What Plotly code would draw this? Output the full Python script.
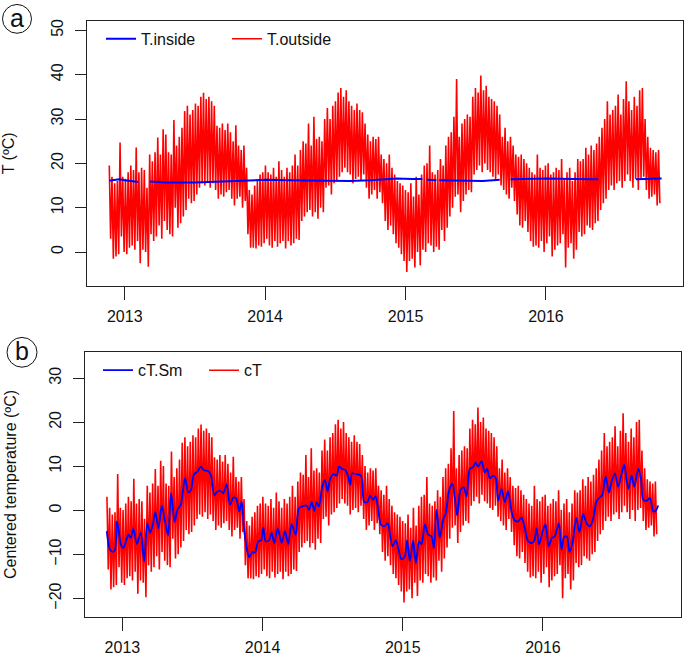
import numpy as np
import pandas as pd
import plotly.graph_objects as go

# ---------------- data ----------------
# Outdoor temperature: weekly high / low (degC), weeks starting 2012-11-20
TOUT_WEEK_START = "2012-11-20"
TOUT_HI = [19.5, 17.0, 15.5, 16.0, 24.7, 17.0, 16.5, 18.0, 19.5, 18.5,
           23.6, 18.0, 19.0, 18.5, 14.5, 22.0, 20.5, 22.5, 25.8, 22.0,
           27.7, 26.5, 22.5, 22.0, 29.8, 24.0, 26.0, 28.0, 31.8, 33.0,
           31.0, 32.0, 33.5, 33.0, 35.0, 35.9, 34.5, 35.0, 34.0, 33.0,
           28.5, 28.0, 29.0, 27.5, 29.0, 27.0, 25.0, 28.6, 24.0, 23.0,
           24.0, 19.0, 14.0, 13.0, 15.0, 16.0, 17.5, 18.0, 19.5, 18.0,
           17.5, 19.0, 17.0, 20.5, 18.5, 17.0, 19.0, 18.0, 19.5, 22.0,
           19.5, 23.0, 25.0, 24.5, 29.0, 24.0, 30.5, 25.5, 26.0, 25.0,
           30.0, 32.5, 30.0, 33.0, 34.0, 36.0, 37.0, 35.0, 36.5, 34.0,
           33.0, 32.0, 33.5, 32.0, 31.5, 29.0, 26.5, 25.0, 26.0, 25.5,
           26.0, 22.0, 21.0, 20.0, 22.0, 19.0, 17.5, 16.0, 15.5, 15.0,
           14.0, 13.5, 15.5, 12.5, 17.0, 13.0, 17.5, 19.5, 20.0, 24.0,
           18.0, 17.5, 18.5, 21.0, 19.5, 24.0, 26.0, 27.0, 30.5, 39.0,
           26.0, 29.0, 30.0, 31.0, 30.5, 35.0, 37.0, 36.0, 39.8, 36.5,
           37.5, 35.0, 34.5, 34.0, 33.0, 31.0, 26.0, 28.0, 25.0, 26.0,
           24.0, 22.0, 21.5, 22.0, 21.0, 20.0, 19.0, 18.0, 17.5, 22.0,
           19.0, 18.5, 19.5, 20.0, 17.5, 18.0, 19.0, 18.5, 21.0, 16.5,
           18.0, 19.0, 16.0, 18.0, 21.0, 20.5, 21.0, 23.5, 22.0, 24.0,
           23.0, 24.5, 26.0, 28.0, 30.0, 34.0, 31.0, 32.0, 33.0, 35.5,
           31.0, 34.5, 38.5, 34.0, 32.0, 35.0, 33.0, 36.5, 37.0, 30.0,
           26.0, 23.5, 23.0, 22.5, 23.0]
TOUT_LO = [3.0, -1.5, -1.0, -0.5, 3.5, 0.0, -0.5, 1.0, 1.5, 0.5,
           2.5, -2.5, 0.5, 0.0, -3.3, 4.0, 2.5, 3.5, 6.0, 3.0,
           7.0, 5.0, 4.0, 3.5, 10.0, 5.5, 6.5, 8.0, 9.5, 12.0,
           11.0, 11.5, 13.0, 14.5, 15.5, 15.0, 16.0, 14.5, 15.5, 14.0,
           12.0, 13.0, 12.5, 13.5, 14.0, 12.0, 10.5, 12.0, 12.5, 10.0,
           11.5, 4.0, 1.0, 1.0, 0.8, 1.5, 1.2, 2.0, 3.0, 1.5,
           1.0, 2.5, 1.2, 2.0, 2.5, 0.8, 2.5, 1.5, 2.0, 3.0,
           2.7, 7.0, 8.0, 9.0, 9.5, 8.0, 9.0, 7.5, 10.0, 9.0,
           14.5, 15.0, 13.0, 15.5, 16.0, 17.0, 18.0, 19.0, 18.0, 17.5,
           15.5, 16.5, 17.0, 16.0, 17.5, 14.5, 12.0, 13.0, 14.0, 12.0,
           13.5, 11.0, 7.0, 5.0, 6.0, 4.0, 2.0, 1.0, -0.5, -2.0,
           -4.5, -2.0, -1.5, -3.5, 0.0, -3.0, 0.5, 0.0, 2.0, 1.5,
           0.0, 1.2, 0.5, 5.0, 2.5, 5.5, 8.0, 10.0, 12.5, 13.0,
           9.0, 11.5, 13.0, 14.0, 13.5, 17.5, 18.5, 19.5, 18.0, 20.0,
           18.5, 18.0, 17.0, 16.5, 17.5, 15.0, 14.0, 13.0, 12.0, 14.5,
           11.5, 8.5, 6.0, 5.5, 7.0, 4.5, 2.5, 1.2, 1.5, 1.0,
           2.5, 0.0, 2.0, 3.5, -1.0, 0.5, 1.5, 2.0, 4.0, -3.5,
           1.0, 2.0, -1.5, 0.5, 4.5, 3.5, 4.0, 6.0, 5.5, 5.0,
           6.5, 7.0, 9.5, 11.0, 12.0, 14.0, 15.0, 14.0, 15.5, 16.0,
           14.5, 16.0, 17.5, 16.0, 14.5, 16.5, 14.0, 16.5, 17.0, 14.0,
           12.0, 12.5, 13.0, 10.5, 11.0]

# Indoor temperature (decimal year, degC); None = gap in record
TIN_YEAR = [2012.889, 2012.93, 2012.96, 2013.0, 2013.05, 2013.097, 2013.14,
            2013.18, 2013.3, 2013.5, 2013.7, 2013.85, 2014.011, 2014.15,
            2014.3, 2014.461, 2014.6, 2014.75, 2014.936, 2015.05, 2015.12,
            2015.135, 2015.15, 2015.22, 2015.23, 2015.24, 2015.41, 2015.55,
            2015.671, 2015.71, 2015.749, 2015.85, 2016.003, 2016.2, 2016.371,
            2016.5, 2016.639, 2016.822]
TIN_VAL = [16.1, 16.2, 16.4, 16.2, 16.0, 15.8, None,
           15.9, 15.7, 15.7, 15.9, 16.0, 16.3, 16.2,
           16.1, 16.0, 16.0, 16.2, 16.6, 16.5, 16.5,
           None, 16.3, 16.2, None, 16.2, 16.1, 16.0,
           16.3, None, 16.4, 16.5, 16.6, 16.5, 16.4,
           None, 16.4, 16.6]

# Smoothed centred temperature cT.Sm (decimal year, degC)
CTSM_YEAR = [2012.889, 2012.912, 2012.932, 2012.948, 2012.960, 2012.971, 2012.989,
             2013.007, 2013.026, 2013.043, 2013.060, 2013.078, 2013.103, 2013.131,
             2013.155, 2013.178, 2013.197, 2013.217, 2013.235, 2013.257, 2013.281,
             2013.304, 2013.326, 2013.347, 2013.373, 2013.392, 2013.416, 2013.447,
             2013.470, 2013.488, 2013.511, 2013.535, 2013.559, 2013.582, 2013.613,
             2013.632, 2013.656, 2013.677, 2013.701, 2013.720, 2013.744, 2013.768,
             2013.791, 2013.810, 2013.834, 2013.851, 2013.867, 2013.887, 2013.905,
             2013.927, 2013.946, 2013.969, 2013.989, 2014.005, 2014.022, 2014.046,
             2014.065, 2014.083, 2014.108, 2014.136, 2014.160, 2014.183, 2014.207,
             2014.236, 2014.259, 2014.283, 2014.314, 2014.331, 2014.350, 2014.369,
             2014.386, 2014.402, 2014.426, 2014.445, 2014.464, 2014.480, 2014.504,
             2014.528, 2014.545, 2014.568, 2014.592, 2014.611, 2014.625, 2014.639,
             2014.671, 2014.701, 2014.725, 2014.749, 2014.766, 2014.789, 2014.806,
             2014.825, 2014.844, 2014.867, 2014.892, 2014.908, 2014.927, 2014.951,
             2014.967, 2014.991, 2015.015, 2015.031, 2015.051, 2015.074, 2015.093,
             2015.117, 2015.134, 2015.158, 2015.181, 2015.205, 2015.222, 2015.241,
             2015.264, 2015.288, 2015.307, 2015.331, 2015.355, 2015.371, 2015.388,
             2015.412, 2015.435, 2015.455, 2015.478, 2015.502, 2015.521, 2015.537,
             2015.562, 2015.585, 2015.602, 2015.621, 2015.644, 2015.664, 2015.680,
             2015.704, 2015.728, 2015.751, 2015.776, 2015.799, 2015.823, 2015.847,
             2015.870, 2015.894, 2015.918, 2015.937, 2015.954, 2015.972, 2016.001,
             2016.018, 2016.041, 2016.065, 2016.084, 2016.113, 2016.132, 2016.150,
             2016.170, 2016.189, 2016.212, 2016.236, 2016.260, 2016.286, 2016.310,
             2016.334, 2016.357, 2016.381, 2016.405, 2016.421, 2016.446, 2016.469,
             2016.488, 2016.512, 2016.535, 2016.560, 2016.578, 2016.607, 2016.631,
             2016.649, 2016.678, 2016.697, 2016.714, 2016.738, 2016.761, 2016.785,
             2016.802, 2016.820]
CTSM_VAL = [-4.7, -8.9, -9.4, -8.9, -2.5, -4.0, -7.7,
            -8.5, -7.0, -5.5, -6.2, -4.1, -7.6, -5.1,
            -11.5, -2.9, -5.1, -3.2, -0.4, -4.0, 1.1,
            -2.5, -5.6, 3.9, -2.6, 0.1, 1.3, 7.3,
            4.1, 4.6, 8.2, 8.8, 9.9, 9.1, 8.9,
            7.9, 3.4, 4.3, 4.4, 3.9, 5.9, 1.3,
            2.9, 2.8, -0.2, 2.0, -4.0, -8.5, -10.6,
            -9.4, -9.6, -7.0, -6.8, -4.0, -7.0, -6.8,
            -5.1, -7.4, -4.1, -7.4, -4.7, -7.6, -3.1,
            -5.6, 0.5, 0.9, 1.1, 0.1, 1.9, -0.1,
            1.9, 0.9, 5.4, 6.9, 4.3, 6.9, 8.2,
            7.9, 9.9, 9.4, 9.1, 7.7, 5.8, 8.4,
            8.2, 7.9, 1.9, 1.9, 3.4, 2.4, 3.2,
            0.1, -3.2, -3.6, -2.9, -5.1, -8.1, -6.8,
            -8.5, -11.1, -10.4, -6.8, -11.5, -6.8, -11.9,
            -7.0, -7.7, -3.2, -5.5, -5.9, -8.5, 0.1,
            -6.2, -2.1, -0.6, 4.6, 6.1, 2.8, -1.1,
            4.6, 5.2, 3.2, 9.4, 9.9, 10.9, 9.9,
            11.2, 8.6, 9.4, 7.3, 7.9, 7.3, 2.2,
            4.9, 1.9, 4.3, -0.2, -2.3, -2.5, -1.6,
            -4.0, -7.0, -7.4, -7.0, -4.1, -7.7, -4.4,
            -3.2, -8.1, -6.2, -5.9, -2.9, -8.9, -6.1,
            -5.9, -9.4, -7.1, -1.7, -4.9, -0.8, -2.9,
            -3.6, -1.9, 2.0, 3.0, 3.4, 7.7, 4.1,
            6.5, 8.4, 5.4, 8.4, 10.4, 4.9, 7.9,
            5.4, 9.4, 7.3, 2.4, 2.2, 2.8, -0.2,
            -0.1, 1.1]

YEAR_TICKS = [2013, 2014, 2015, 2016]
YEAR_LABELS = ["2013", "2014", "2015", "2016"]
T_TICKS = [0, 10, 20, 30, 40, 50]
CT_TICKS = [-20, -10, 0, 10, 20, 30]


def dy(v):
    """decimal year -> Timestamp"""
    y = int(np.floor(v))
    a = pd.Timestamp(year=y, month=1, day=1)
    b = pd.Timestamp(year=y + 1, month=1, day=1)
    return a + (b - a) * (v - y)


# outdoor series: each week's high then low
weeks = pd.date_range(TOUT_WEEK_START, periods=len(TOUT_HI), freq="7D")
tout_x, tout_y = [], []
for d, h, l in zip(weeks, TOUT_HI, TOUT_LO):
    tout_x += [d + pd.Timedelta(hours=42), d + pd.Timedelta(hours=126)]
    tout_y += [h, l]
tout_y = np.array(tout_y)
ct_y = tout_y - tout_y.mean()          # centred temperature

tin_x = [dy(v) for v in TIN_YEAR]
ctsm_x = [dy(v) for v in CTSM_YEAR]

W, H = 685, 656
FONT = "Liberation Sans, Arial, sans-serif"
RED_W = 1.6

fig = go.Figure()
fig.add_trace(go.Scatter(x=tout_x, y=tout_y, mode="lines", name="T.outside",
                         line=dict(color="#ff0000", width=RED_W, simplify=False), legendrank=2,
                         legend="legend", xaxis="x", yaxis="y"))
fig.add_trace(go.Scatter(x=tin_x, y=TIN_VAL, mode="lines", name="T.inside",
                         line=dict(color="#0000ff", width=2), connectgaps=False,
                         legendrank=1, legend="legend", xaxis="x", yaxis="y"))
fig.add_trace(go.Scatter(x=tout_x, y=ct_y, mode="lines", name="cT",
                         line=dict(color="#ff0000", width=RED_W, simplify=False), legendrank=2,
                         legend="legend2", xaxis="x2", yaxis="y2"))
fig.add_trace(go.Scatter(x=ctsm_x, y=CTSM_VAL, mode="lines", name="cT.Sm",
                         line=dict(color="#0000ff", width=1.8, shape="spline", smoothing=0.8),
                         legendrank=1, legend="legend2", xaxis="x2", yaxis="y2"))

axis_common = dict(showgrid=False, zeroline=False, showline=True, mirror=True,
                   linecolor="#222", linewidth=1, ticks="outside", tickcolor="#222",
                   tickwidth=1, tickfont=dict(family=FONT, size=16, color="#111"))

fig.update_layout(
    width=W, height=H, margin=dict(l=0, r=0, t=0, b=0),
    paper_bgcolor="white", plot_bgcolor="white",
    font=dict(family=FONT, size=16, color="#111"),
    xaxis=dict(domain=[87 / W, 683 / W], anchor="y", type="date",
               range=[dy(2012.7317), dy(2016.9737)],
               tickvals=[dy(v) for v in YEAR_TICKS], ticktext=YEAR_LABELS,
               ticklen=13, ticklabelstandoff=3, **axis_common),
    yaxis=dict(domain=[1 - 286 / H, 1 - 19 / H], anchor="x",
               range=[-7.61, 52.13], tickvals=T_TICKS, tickangle=-90,
               ticklen=11, ticklabelstandoff=6,
               title=dict(text="T (ºC)", standoff=29, font=dict(family=FONT, size=16)),
               **axis_common),
    xaxis2=dict(domain=[85 / W, 680.7 / W], anchor="y2", type="date",
                range=[dy(2012.734), dy(2016.980)],
                tickvals=[dy(v) for v in YEAR_TICKS], ticktext=YEAR_LABELS,
                ticklen=13, ticklabelstandoff=3, **axis_common),
    yaxis2=dict(domain=[1 - 620 / H, 1 - 352.3 / H], anchor="x2",
                range=[-24.26, 36.04], tickvals=CT_TICKS, tickangle=-90,
                ticklen=11, ticklabelstandoff=6,
                title=dict(text="Centered temperature (ºC)", standoff=25,
                           font=dict(family=FONT, size=16)),
                **axis_common),
    legend=dict(orientation="h", x=101 / W, y=1 - 20 / H, xanchor="left", yanchor="top",
                bgcolor="rgba(0,0,0,0)", font=dict(family=FONT, size=16),
                entrywidth=81, entrywidthmode="pixels"),
    legend2=dict(orientation="h", x=98 / W, y=1 - 354 / H, xanchor="left", yanchor="top",
                 bgcolor="rgba(0,0,0,0)", font=dict(family=FONT, size=16),
                 entrywidth=61, entrywidthmode="pixels"),
    showlegend=True,
)

# panel letters in circles
for letter, cx, cy, r in [("a", 17, 17, 14.5), ("b", 22, 353, 15)]:
    fig.add_shape(type="circle", xref="paper", yref="paper",
                  x0=(cx - r) / W, x1=(cx + r) / W, y0=1 - (cy + r) / H, y1=1 - (cy - r) / H,
                  line=dict(color="#111", width=1))
    fig.add_annotation(text=letter, xref="paper", yref="paper", x=cx / W, y=1 - (cy - 1) / H,
                       xanchor="center", yanchor="middle", showarrow=False,
                       font=dict(family=FONT, size=25, color="#111"))

fig.write_html("out.html", config={"displayModeBar": False},
               post_script="document.body.style.margin='0';"
                           "document.body.style.overflow='hidden';")
